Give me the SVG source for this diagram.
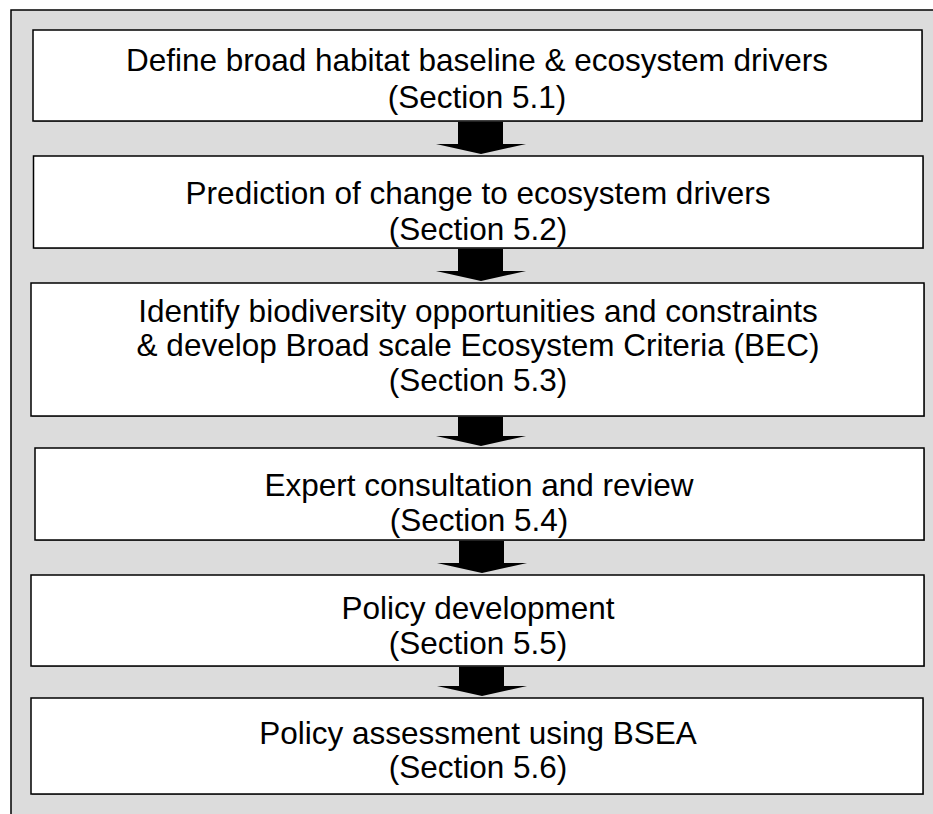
<svg xmlns="http://www.w3.org/2000/svg" width="933" height="814" viewBox="0 0 933 814">
<style>
.box{fill:#ffffff;stroke:#000000;stroke-width:1.5}
.shadow{fill:#8a8a8a}
.t{font-family:"Liberation Sans",Arial,sans-serif;font-size:31.5px;fill:#000000;text-anchor:middle}
.arrow{fill:#000000}
</style>
<rect x="0" y="0" width="933" height="814" fill="#ffffff"/>
<rect x="11" y="10" width="940" height="820" fill="#dcdcdc" stroke="#000000" stroke-width="1.5"/>
<g id="connectors">
<path class="arrow" d="M458,121 H503 V144 H526 L481,154 L436,144 H458 Z"/>
<path class="arrow" d="M458,248 H503 V271 H526 L481,281 L436,271 H458 Z"/>
<path class="arrow" d="M458,416 H503 V436 H526 L481,446 L436,436 H458 Z"/>
<path class="arrow" d="M459,540 H504 V563 H527 L482,573 L437,563 H459 Z"/>
<path class="arrow" d="M459,666 H504 V686 H527 L482,696 L437,686 H459 Z"/>
</g>
<g id="node1">
<rect class="shadow" x="34" y="31" width="889" height="91"/>
<rect class="box" x="33" y="30" width="889" height="91"/>
<text class="t" x="477" y="71">Define broad habitat baseline &amp; ecosystem drivers</text>
<text class="t" x="477" y="108">(Section 5.1)</text>
</g>
<g id="node2">
<rect class="shadow" x="34.5" y="157" width="889.5" height="92"/>
<rect class="box" x="33.5" y="156" width="889.5" height="92"/>
<text class="t" x="478" y="204">Prediction of change to ecosystem drivers</text>
<text class="t" x="478" y="240">(Section 5.2)</text>
</g>
<g id="node3">
<rect class="shadow" x="32" y="284" width="893" height="133"/>
<rect class="box" x="31" y="283" width="893" height="133"/>
<text class="t" x="478" y="322">Identify biodiversity opportunities and constraints</text>
<text class="t" x="478" y="356">&amp; develop Broad scale Ecosystem Criteria (BEC)</text>
<text class="t" x="478" y="391">(Section 5.3)</text>
</g>
<g id="node4">
<rect class="shadow" x="36" y="449" width="889" height="92"/>
<rect class="box" x="35" y="448" width="889" height="92"/>
<text class="t" x="479" y="496">Expert consultation and review</text>
<text class="t" x="479" y="531">(Section 5.4)</text>
</g>
<g id="node5">
<rect class="shadow" x="32" y="576" width="893" height="91"/>
<rect class="box" x="31" y="575" width="893" height="91"/>
<text class="t" x="478" y="619">Policy development</text>
<text class="t" x="478" y="654">(Section 5.5)</text>
</g>
<g id="node6">
<rect class="shadow" x="32" y="699" width="892" height="96"/>
<rect class="box" x="31" y="698" width="892" height="96"/>
<text class="t" x="478" y="744">Policy assessment using BSEA</text>
<text class="t" x="478" y="778">(Section 5.6)</text>
</g>
</svg>
